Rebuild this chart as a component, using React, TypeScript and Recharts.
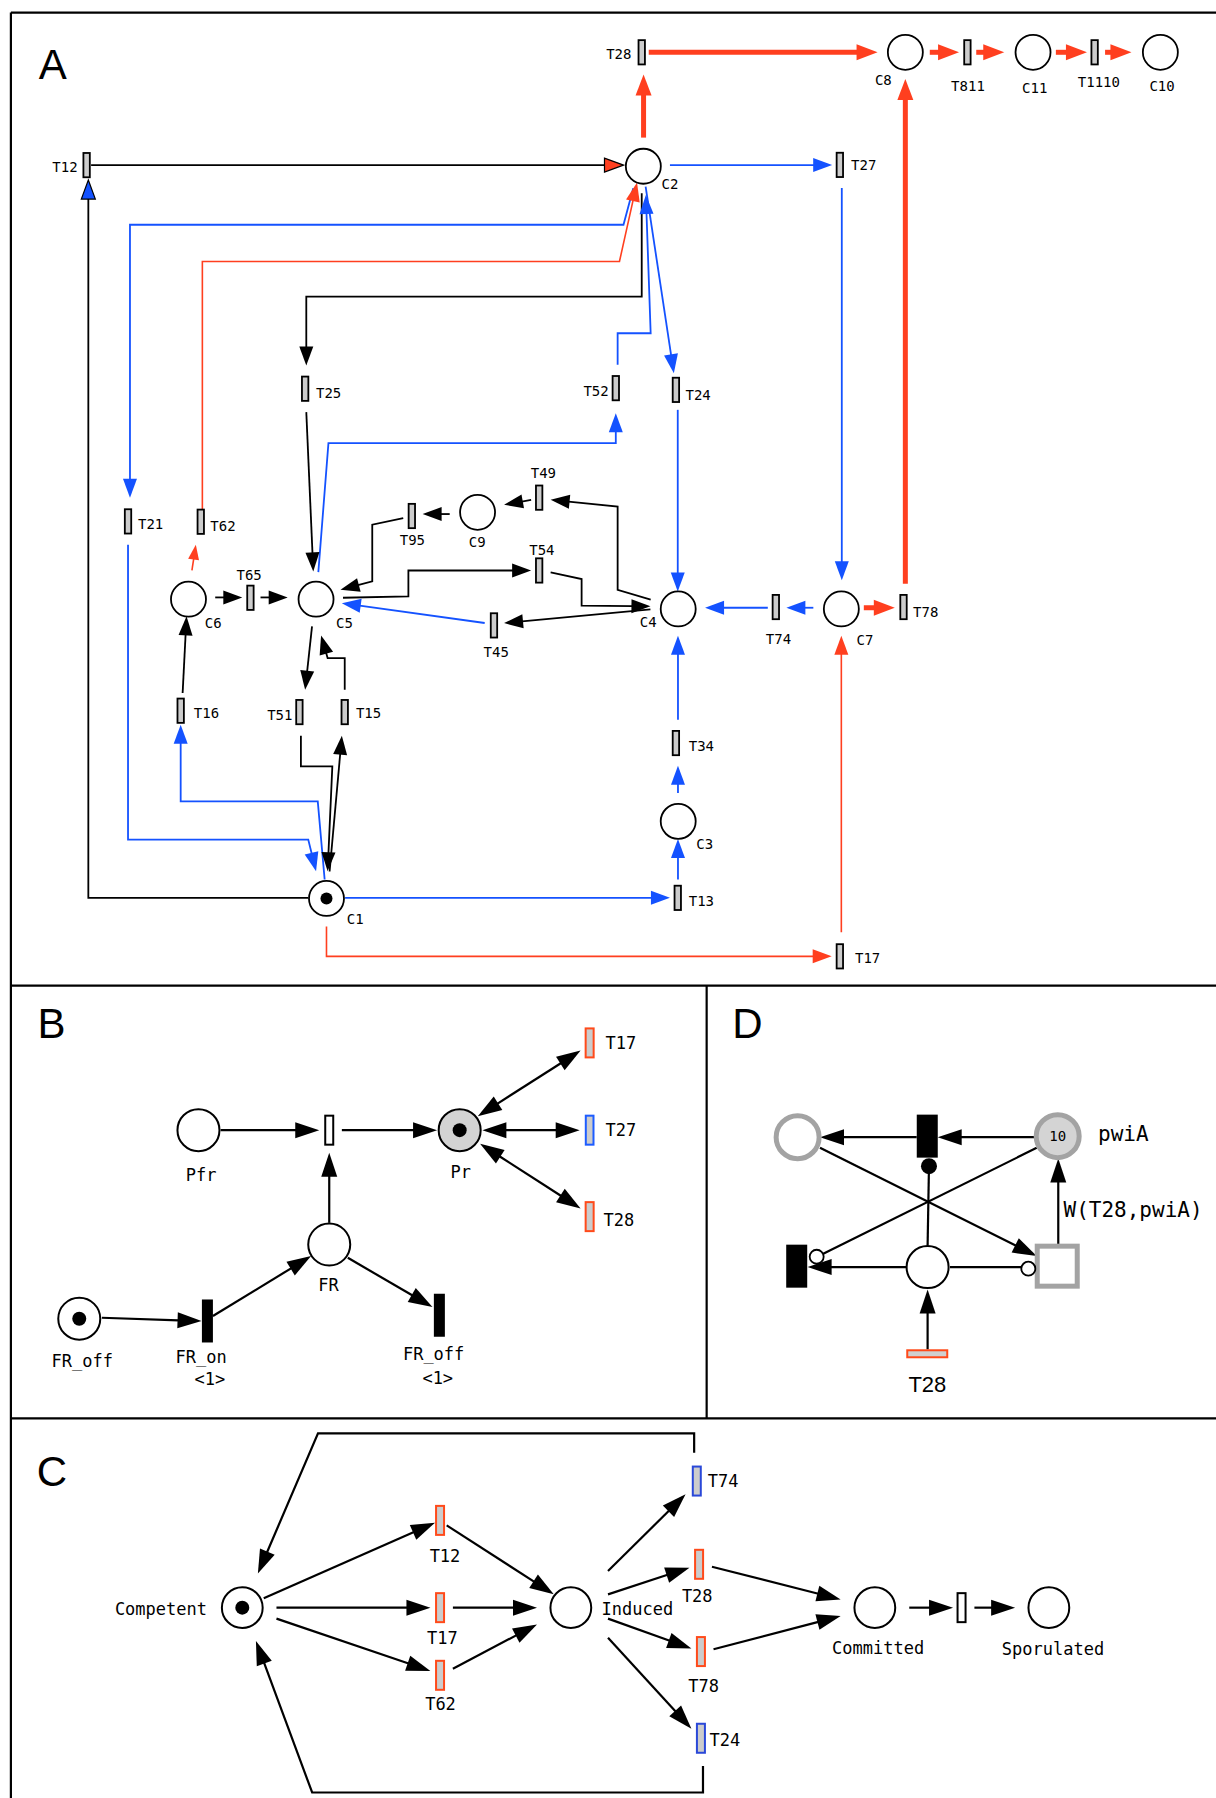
import React from 'react';
import { ComposedChart, Scatter, XAxis, YAxis } from 'recharts';

const W = 1216;
const H = 1798;
// data units: the figure's own grid (the reference at 1060 x 1568)
const DW = 1060;
const DH = 1568;
const KX = W / DW;
const KY = H / DH;

type Node = { id: string; x: number; y: number; kind: string; token?: boolean };
type Label = { t: string; x: number; y: number; kind: string };
type Edge = { pts: number[][]; kind: string; heads: number; headFill?: string };

const frame: number[][][] = [
  [[9.5, 11], [1060, 11]],
  [[9.5, 11], [9.5, 1568]],
  [[9.5, 859.5], [1060, 859.5]],
  [[9.5, 1237], [1060, 1237]],
  [[616, 859.5], [616, 1237]],
];

const places: Node[] = [
  // A
  { id: 'C1', x: 284.6, y: 783.5, kind: 'a', token: true },
  { id: 'C2', x: 560.8, y: 145, kind: 'a' },
  { id: 'C3', x: 591.2, y: 716.3, kind: 'a' },
  { id: 'C4', x: 591.2, y: 531, kind: 'a' },
  { id: 'C5', x: 275.5, y: 522.5, kind: 'a' },
  { id: 'C6', x: 164.3, y: 522.5, kind: 'a' },
  { id: 'C7', x: 733.4, y: 531, kind: 'a' },
  { id: 'C8', x: 789.2, y: 45.6, kind: 'a' },
  { id: 'C9', x: 416.3, y: 446.8, kind: 'a' },
  { id: 'C10', x: 1011.5, y: 45.6, kind: 'a' },
  { id: 'C11', x: 900.5, y: 45.6, kind: 'a' },
  // B
  { id: 'Pfr', x: 173, y: 985.6, kind: 'b' },
  { id: 'Pr', x: 400.7, y: 985.6, kind: 'bg', token: true },
  { id: 'FR', x: 287, y: 1085.3, kind: 'b' },
  { id: 'FR_off', x: 69.1, y: 1150, kind: 'b', token: true },
  // C
  { id: 'Competent', x: 211.2, y: 1402, kind: 'c', token: true },
  { id: 'Induced', x: 497.6, y: 1402, kind: 'c' },
  { id: 'Committed', x: 762.6, y: 1402, kind: 'c' },
  { id: 'Sporulated', x: 914.3, y: 1402, kind: 'c' },
  // D
  { id: 'D-left', x: 695.3, y: 991.7, kind: 'ring' },
  { id: 'pwiA', x: 922, y: 990.8, kind: 'ringFill' },
  { id: 'D-mid', x: 808.6, y: 1105, kind: 'd' },
];

const arcEnds: Node[] = [
  { id: 'read', x: 809.8, y: 1017, kind: 'dot' },
  { id: 'inh1', x: 711.9, y: 1096, kind: 'inhib' },
  { id: 'inh2', x: 896.4, y: 1106.4, kind: 'inhib' },
];

const transitions: Node[] = [
  // A
  { id: 'T28', x: 559.4, y: 45.6, kind: 'ta' },
  { id: 'T811', x: 843.3, y: 45.6, kind: 'ta' },
  { id: 'T1110', x: 954.2, y: 45.6, kind: 'ta' },
  { id: 'T12', x: 75.5, y: 144, kind: 'ta' },
  { id: 'T27', x: 732.1, y: 143.8, kind: 'ta' },
  { id: 'T25', x: 266, y: 339, kind: 'ta' },
  { id: 'T52', x: 536.8, y: 338.5, kind: 'ta' },
  { id: 'T24', x: 589.2, y: 340, kind: 'ta' },
  { id: 'T49', x: 470, y: 434, kind: 'ta' },
  { id: 'T95', x: 359, y: 450, kind: 'ta' },
  { id: 'T54', x: 470, y: 497.5, kind: 'ta' },
  { id: 'T65', x: 218.3, y: 521.3, kind: 'ta' },
  { id: 'T21', x: 111.6, y: 454.7, kind: 'ta' },
  { id: 'T62', x: 175, y: 455, kind: 'ta' },
  { id: 'T45', x: 430.6, y: 545.4, kind: 'ta' },
  { id: 'T74', x: 676.3, y: 529.4, kind: 'ta' },
  { id: 'T78', x: 787.6, y: 529.4, kind: 'ta' },
  { id: 'T16', x: 157.5, y: 619.8, kind: 'ta' },
  { id: 'T51', x: 261, y: 621, kind: 'ta' },
  { id: 'T15', x: 300.5, y: 621, kind: 'ta' },
  { id: 'T34', x: 589.2, y: 648, kind: 'ta' },
  { id: 'T13', x: 590.8, y: 783, kind: 'ta' },
  { id: 'T17', x: 732.1, y: 834, kind: 'ta' },
  // B
  { id: 'B-mid', x: 287, y: 985.6, kind: 'tw' },
  { id: 'B-T17', x: 514, y: 909.5, kind: 'tor' },
  { id: 'B-T27', x: 514, y: 985.6, kind: 'tblB' },
  { id: 'B-T28', x: 514, y: 1061, kind: 'tor' },
  { id: 'FR_on', x: 180.8, y: 1152, kind: 'tk' },
  { id: 'FR_offT', x: 383, y: 1147, kind: 'tk' },
  // C
  { id: 'C-T12', x: 383.6, y: 1325.9, kind: 'tor' },
  { id: 'C-T17', x: 383.6, y: 1402, kind: 'tor' },
  { id: 'C-T62', x: 383.6, y: 1461, kind: 'tor' },
  { id: 'C-T74', x: 607.4, y: 1291.6, kind: 'tbl' },
  { id: 'C-T28', x: 609.4, y: 1364.2, kind: 'tor' },
  { id: 'C-T78', x: 611, y: 1440.3, kind: 'tor' },
  { id: 'C-T24', x: 611, y: 1515.9, kind: 'tbl' },
  { id: 'C-mid', x: 838.2, y: 1402, kind: 'tw' },
  // D
  { id: 'D-top', x: 808.3, y: 990.8, kind: 'tkD' },
  { id: 'D-lt', x: 694.5, y: 1104.2, kind: 'tkD' },
  { id: 'D-sq', x: 921.6, y: 1104.2, kind: 'sq' },
  { id: 'D-T28', x: 808.3, y: 1180.6, kind: 'hbar' },
];

const labels: Label[] = [
  { t: 'A', x: 33.8, y: 69.1, kind: 'P' },
  { t: 'B', x: 32.6, y: 905.4, kind: 'P' },
  { t: 'C', x: 32, y: 1296, kind: 'P' },
  { t: 'D', x: 638.3, y: 905.4, kind: 'P' },
  // A
  { t: 'T28', x: 539.4, y: 46.8, kind: 'a' },
  { t: 'T811', x: 843.8, y: 74.7, kind: 'a' },
  { t: 'T1110', x: 957.9, y: 71.6, kind: 'a' },
  { t: 'C8', x: 770, y: 70, kind: 'a' },
  { t: 'C11', x: 902, y: 76.5, kind: 'a' },
  { t: 'C10', x: 1013, y: 74.7, kind: 'a' },
  { t: 'C2', x: 584, y: 160.5, kind: 'a' },
  { t: 'T27', x: 752.9, y: 144.2, kind: 'a' },
  { t: 'T24', x: 608.6, y: 344.5, kind: 'a' },
  { t: 'T12', x: 56.6, y: 146, kind: 'a' },
  { t: 'T25', x: 286.5, y: 343, kind: 'a' },
  { t: 'T52', x: 519.6, y: 341.4, kind: 'a' },
  { t: 'T49', x: 473.7, y: 412.2, kind: 'a' },
  { t: 'T21', x: 131.3, y: 456.8, kind: 'a' },
  { t: 'T62', x: 194.4, y: 458.3, kind: 'a' },
  { t: 'T95', x: 359.5, y: 471.3, kind: 'a' },
  { t: 'C9', x: 416, y: 472.5, kind: 'a' },
  { t: 'T54', x: 472.4, y: 479.5, kind: 'a' },
  { t: 'T65', x: 217.2, y: 501.3, kind: 'a' },
  { t: 'C6', x: 185.9, y: 543.1, kind: 'a' },
  { t: 'C5', x: 300.3, y: 543.1, kind: 'a' },
  { t: 'T45', x: 432.6, y: 568.6, kind: 'a' },
  { t: 'T16', x: 180, y: 621.8, kind: 'a' },
  { t: 'T51', x: 243.9, y: 623.3, kind: 'a' },
  { t: 'T15', x: 321.3, y: 621.8, kind: 'a' },
  { t: 'C1', x: 309.6, y: 801.1, kind: 'a' },
  { t: 'C4', x: 565, y: 542.6, kind: 'a' },
  { t: 'T74', x: 678.6, y: 557, kind: 'a' },
  { t: 'C7', x: 754, y: 558.5, kind: 'a' },
  { t: 'T78', x: 807, y: 534.1, kind: 'a' },
  { t: 'T34', x: 611.4, y: 650.3, kind: 'a' },
  { t: 'C3', x: 614.3, y: 735.9, kind: 'a' },
  { t: 'T13', x: 611.4, y: 785.7, kind: 'a' },
  { t: 'T17', x: 756.3, y: 835.4, kind: 'a' },
  // B
  { t: 'Pfr', x: 175.3, y: 1024.3, kind: 'b' },
  { t: 'Pr', x: 401.7, y: 1022.1, kind: 'b' },
  { t: 'T17', x: 541.3, y: 909.5, kind: 'b' },
  { t: 'T27', x: 541.3, y: 985.1, kind: 'b' },
  { t: 'T28', x: 539.5, y: 1063.6, kind: 'b' },
  { t: 'FR', x: 286.4, y: 1120.5, kind: 'b' },
  { t: 'FR_off', x: 71.7, y: 1187.1, kind: 'b' },
  { t: 'FR_on', x: 175.3, y: 1183.4, kind: 'b' },
  { t: '<1>', x: 183, y: 1202.5, kind: 'b' },
  { t: 'FR_off', x: 378, y: 1181.2, kind: 'b' },
  { t: '<1>', x: 381.6, y: 1201.3, kind: 'b' },
  // C
  { t: 'Competent', x: 140.3, y: 1403.1, kind: 'b' },
  { t: 'T12', x: 387.9, y: 1357.1, kind: 'b' },
  { t: 'T17', x: 385.7, y: 1428.9, kind: 'b' },
  { t: 'T62', x: 384, y: 1486.2, kind: 'b' },
  { t: 'Induced', x: 555.6, y: 1403, kind: 'b' },
  { t: 'T74', x: 630.3, y: 1291.3, kind: 'b' },
  { t: 'T28', x: 607.8, y: 1391.7, kind: 'b' },
  { t: 'T78', x: 613.4, y: 1470.3, kind: 'b' },
  { t: 'T24', x: 631.9, y: 1517.1, kind: 'b' },
  { t: 'Committed', x: 765.5, y: 1437.5, kind: 'b' },
  { t: 'Sporulated', x: 917.9, y: 1437.8, kind: 'b' },
  // D
  { t: 'pwiA', x: 979.2, y: 988.9, kind: 'd' },
  { t: 'W(T28,pwiA)', x: 987.7, y: 1054.9, kind: 'd' },
  { t: '10', x: 922, y: 990.8, kind: 'n' },
  { t: 'T28', x: 808.4, y: 1207.8, kind: 's' },
];

const edgesA: Edge[] = [
  { pts: [[561, 120], [561, 65]], kind: 'R', heads: 1 },
  { pts: [[565.5, 45.6], [765, 45.6]], kind: 'R', heads: 1 },
  { pts: [[810.5, 45.6], [836, 45.6]], kind: 'R', heads: 1 },
  { pts: [[851, 45.6], [875.4, 45.6]], kind: 'R', heads: 1 },
  { pts: [[920.4, 45.6], [947.5, 45.6]], kind: 'R', heads: 1 },
  { pts: [[963.3, 45.6], [986.3, 45.6]], kind: 'R', heads: 1 },
  { pts: [[789.2, 509], [789.2, 69]], kind: 'R', heads: 1 },
  { pts: [[753, 530], [780, 530]], kind: 'R', heads: 1 },
  { pts: [[284.6, 808], [284.6, 834], [725, 834]], kind: 'r', heads: 1 },
  { pts: [[733.4, 813], [733.4, 554.4]], kind: 'r', heads: 1 },
  { pts: [[167.3, 497.5], [170.7, 475]], kind: 'rs', heads: 1 },
  { pts: [[176.4, 444], [176.4, 228], [540, 228], [555.3, 159.2]], kind: 'r', heads: 1 },
  { pts: [[584, 144], [725.4, 144]], kind: 'b', heads: 1 },
  { pts: [[733.8, 164], [733.8, 506]], kind: 'b', heads: 1 },
  { pts: [[562.8, 162.7], [587.4, 325.4]], kind: 'b', heads: 1 },
  { pts: [[590.8, 357.4], [590.8, 515.8]], kind: 'b', heads: 1 },
  { pts: [[538.4, 318], [538.4, 290.6], [567.2, 290.6], [563, 170]], kind: 'b', heads: 1 },
  { pts: [[277.5, 499], [286.3, 386.4], [536.8, 386.4], [536.8, 360.3]], kind: 'b', heads: 1 },
  { pts: [[552, 164.2], [543.5, 196], [113.3, 196], [113.3, 434]], kind: 'b', heads: 1 },
  { pts: [[111.6, 475], [111.6, 732.2], [268.7, 732.2], [275.5, 759.8]], kind: 'b', heads: 1 },
  { pts: [[283, 767], [277, 698.8], [157.5, 698.8], [157.5, 632]], kind: 'b', heads: 1 },
  { pts: [[300.8, 783], [584, 783]], kind: 'b', heads: 1 },
  { pts: [[591, 767], [591, 731.6]], kind: 'b', heads: 1 },
  { pts: [[591, 691.6], [591, 667.7]], kind: 'b', heads: 1 },
  { pts: [[591, 627.6], [591, 554.4]], kind: 'b', heads: 1 },
  { pts: [[669.3, 530], [614.6, 530]], kind: 'b', heads: 1 },
  { pts: [[709, 530], [685.5, 530]], kind: 'b', heads: 1 },
  { pts: [[422.5, 543.3], [298, 526]], kind: 'b', heads: 1 },
  { pts: [[268.7, 783], [77, 783], [77, 157]], kind: 'k', heads: 1, headFill: 'b' },
  { pts: [[79.4, 144], [543.5, 144]], kind: 'k', heads: 1, headFill: 'r' },
  { pts: [[559.4, 168.6], [559.4, 258.6], [267, 258.6], [267, 318.8]], kind: 'k', heads: 1 },
  { pts: [[267, 359.4], [273.1, 498.3]], kind: 'k', heads: 1 },
  { pts: [[187.6, 521], [211.2, 521]], kind: 'k', heads: 1 },
  { pts: [[227.1, 521], [250.8, 521]], kind: 'k', heads: 1 },
  { pts: [[299, 521.3], [356, 520.1], [356, 497.5], [463, 497.5]], kind: 'k', heads: 1 },
  { pts: [[480, 499.2], [507, 505], [507, 528.2], [567, 528.8]], kind: 'k', heads: 1 },
  { pts: [[567, 531.5], [439.4, 543.4]], kind: 'k', heads: 1 },
  { pts: [[567.2, 523], [538.4, 514.3], [538.4, 441.7], [480, 435.9]], kind: 'k', heads: 1 },
  { pts: [[463, 435.9], [439.4, 440.2]], kind: 'k', heads: 1 },
  { pts: [[392, 448.3], [368.4, 448.3]], kind: 'k', heads: 1 },
  { pts: [[351.5, 451.8], [324.5, 457.6], [324.5, 507], [296.8, 514.3]], kind: 'k', heads: 1 },
  { pts: [[272, 546.3], [266, 601.5]], kind: 'k', heads: 1 },
  { pts: [[300.5, 601.5], [300.5, 573.9], [285.6, 573.9], [279.9, 554.1]], kind: 'k', heads: 1 },
  { pts: [[262.3, 641.6], [262.3, 668.3], [289.7, 668.3], [285.6, 759.8]], kind: 'k', heads: 1 },
  { pts: [[287.3, 760], [298, 641.6]], kind: 'k', heads: 1 },
  { pts: [[159.2, 604.4], [162.6, 537.5]], kind: 'k', heads: 1 },
];

const edgesB: Edge[] = [
  { pts: [[192.3, 985.6], [278.3, 985.6]], kind: 'k2', heads: 1 },
  { pts: [[298, 985.6], [381, 985.6]], kind: 'k2', heads: 1 },
  { pts: [[287, 1066.4], [287, 1005.3]], kind: 'k2', heads: 1 },
  { pts: [[88.8, 1149.2], [175.7, 1152.1]], kind: 'k2', heads: 1 },
  { pts: [[185.6, 1147.7], [271.2, 1095.4]], kind: 'k2', heads: 1 },
  { pts: [[303.2, 1096.9], [377, 1139.9]], kind: 'k2', heads: 1 },
  { pts: [[416.5, 973.4], [506.1, 916.2]], kind: 'k2', heads: 2 },
  { pts: [[420.5, 985.6], [505.3, 985.6]], kind: 'k2', heads: 2 },
  { pts: [[418.5, 997.5], [506.1, 1053.9]], kind: 'k2', heads: 2 },
];

const edgesC: Edge[] = [
  { pts: [[229.9, 1393.9], [379.2, 1327.9]], kind: 'k2', heads: 1 },
  { pts: [[241, 1402], [375.2, 1402]], kind: 'k2', heads: 1 },
  { pts: [[241, 1411.6], [375.2, 1457.2]], kind: 'k2', heads: 1 },
  { pts: [[389.4, 1330.2], [482.7, 1390.4]], kind: 'k2', heads: 1 },
  { pts: [[394.8, 1402], [468.1, 1402]], kind: 'k2', heads: 1 },
  { pts: [[394.8, 1455.2], [468.1, 1416.6]], kind: 'k2', heads: 1 },
  { pts: [[530, 1370], [597.6, 1303.2]], kind: 'k2', heads: 1 },
  { pts: [[530, 1390.4], [601, 1367.1]], kind: 'k2', heads: 1 },
  { pts: [[530, 1411.6], [602.7, 1437.7]], kind: 'k2', heads: 1 },
  { pts: [[530, 1428.2], [602.7, 1507.5]], kind: 'k2', heads: 1 },
  { pts: [[620.6, 1366.3], [732.8, 1394.8]], kind: 'k2', heads: 1 },
  { pts: [[622, 1438.3], [732.8, 1409.3]], kind: 'k2', heads: 1 },
  { pts: [[792.6, 1402], [830.8, 1402]], kind: 'k2', heads: 1 },
  { pts: [[849.4, 1402], [884.9, 1402]], kind: 'k2', heads: 1 },
  { pts: [[605.1, 1266.9], [605.1, 1250], [277.2, 1250], [224.8, 1372.3]], kind: 'k2', heads: 1 },
  { pts: [[612.8, 1540], [612.8, 1563.2], [272.1, 1563.2], [223.1, 1431]], kind: 'k2', heads: 1 },
];

const edgesD: Edge[] = [
  { pts: [[903.7, 991.7], [817.4, 991.7]], kind: 'k2', heads: 1 },
  { pts: [[799.1, 991.7], [714.8, 991.7]], kind: 'k2', heads: 1 },
  { pts: [[808.6, 1086.1], [809.8, 1017]], kind: 'k2', heads: 0 },
  { pts: [[789.8, 1105], [704, 1105]], kind: 'k2', heads: 1 },
  { pts: [[903.7, 1001], [716.3, 1094]], kind: 'k2', heads: 0 },
  { pts: [[714.8, 1001], [903.7, 1095.4]], kind: 'k2', heads: 1 },
  { pts: [[828.1, 1105], [890.4, 1105]], kind: 'k2', heads: 0 },
  { pts: [[922.5, 1085.3], [922.5, 1010.3]], kind: 'k2', heads: 1 },
  { pts: [[808.6, 1176.8], [808.6, 1124.5]], kind: 'k2', heads: 1 },
];

const BLUE = '#1452ff';
const RED = '#ff3f1f';
const ORANGE = '#ff4a1a';
const GRAY = '#cccccc';
const RING = '#a3a3a3';
const MONO = "'DejaVu Sans Mono', monospace";
const SANS = "'Liberation Sans', Arial, sans-serif";

const EDGE_STYLE: Record<string, { color: string; width: number; len: number; hw: number }> = {
  k: { color: '#000', width: 1.8, len: 19, hw: 7 },
  b: { color: BLUE, width: 1.8, len: 19, hw: 7 },
  r: { color: RED, width: 1.6, len: 19, hw: 7 },
  rs: { color: RED, width: 1.6, len: 15, hw: 5.5 },
  R: { color: RED, width: 5, len: 21, hw: 8 },
  k2: { color: '#000', width: 2.2, len: 24, hw: 8 },
};

const HEAD_FILL: Record<string, string> = { b: BLUE, r: RED };

const unit = (a: number[], b: number[]) => {
  const dx = (b[0] - a[0]) * KX;
  const dy = (b[1] - a[1]) * KY;
  const l = Math.hypot(dx, dy) || 1;
  return [dx / l, dy / l];
};

const heads: any[] = [];
const edgeLines = [...edgesA, ...edgesB, ...edgesC, ...edgesD].map((e) => {
  const st = EDGE_STYLE[e.kind];
  const pts = e.pts.map((p) => [p[0], p[1]]);
  const cut = st.len - 1;
  const n = pts.length;
  if (e.heads >= 1) {
    const [ux, uy] = unit(e.pts[n - 2], e.pts[n - 1]);
    heads.push({ x: e.pts[n - 1][0], y: e.pts[n - 1][1], ang: Math.atan2(uy, ux), kind: e.kind, fill: e.headFill });
    pts[n - 1] = [pts[n - 1][0] - (ux * cut) / KX, pts[n - 1][1] - (uy * cut) / KY];
  }
  if (e.heads === 2) {
    const [ux, uy] = unit(e.pts[1], e.pts[0]);
    heads.push({ x: e.pts[0][0], y: e.pts[0][1], ang: Math.atan2(uy, ux), kind: e.kind });
    pts[0] = [pts[0][0] - (ux * cut) / KX, pts[0][1] - (uy * cut) / KY];
  }
  return { kind: e.kind, data: pts.map(([x, y]) => ({ x, y })) };
});

const noShape = () => <g />;

const HeadShape = (props: any) => {
  const { cx, cy, payload } = props;
  const st = EDGE_STYLE[payload.kind];
  const c = Math.cos(payload.ang);
  const s = Math.sin(payload.ang);
  const bx = cx - c * st.len;
  const by = cy - s * st.len;
  const pts = `${cx},${cy} ${bx - s * st.hw},${by + c * st.hw} ${bx + s * st.hw},${by - c * st.hw}`;
  const custom = payload.fill ? HEAD_FILL[payload.fill] : null;
  return (
    <polygon
      points={pts}
      fill={custom || st.color}
      stroke={custom ? '#000' : 'none'}
      strokeWidth={custom ? 1.2 : 0}
    />
  );
};

const CIRCLE: Record<string, { r: number; fill: string; stroke: string; sw: number }> = {
  a: { r: 17.5, fill: '#fff', stroke: '#000', sw: 1.8 },
  b: { r: 21, fill: '#fff', stroke: '#000', sw: 2 },
  bg: { r: 21, fill: '#d3d3d3', stroke: '#000', sw: 2 },
  c: { r: 20.4, fill: '#fff', stroke: '#000', sw: 2 },
  d: { r: 21, fill: '#fff', stroke: '#000', sw: 2 },
  ring: { r: 21.5, fill: '#fff', stroke: RING, sw: 5 },
  ringFill: { r: 21.5, fill: '#d4d4d4', stroke: RING, sw: 5 },
  dot: { r: 8, fill: '#000', stroke: 'none', sw: 0 },
  inhib: { r: 7, fill: '#fff', stroke: '#000', sw: 1.8 },
};

const RECT: Record<string, { w: number; h: number; fill: string; stroke: string; sw: number }> = {
  ta: { w: 6.4, h: 24.3, fill: GRAY, stroke: '#000', sw: 1.8 },
  tw: { w: 8, h: 29, fill: '#fff', stroke: '#000', sw: 2 },
  tor: { w: 8, h: 29, fill: GRAY, stroke: ORANGE, sw: 2 },
  tbl: { w: 8, h: 29, fill: GRAY, stroke: '#2a48d8', sw: 2 },
  tblB: { w: 7.7, h: 29, fill: GRAY, stroke: '#1d5cff', sw: 2 },
  tk: { w: 11, h: 43, fill: '#000', stroke: 'none', sw: 0 },
  tkD: { w: 21, h: 43, fill: '#000', stroke: 'none', sw: 0 },
  sq: { w: 40, h: 40, fill: '#fff', stroke: RING, sw: 5 },
  hbar: { w: 40, h: 7, fill: '#d0d0d0', stroke: ORANGE, sw: 2 },
};

const NodeShape = (props: any) => {
  const { cx, cy, payload } = props;
  const c = CIRCLE[payload.kind];
  if (c) {
    return (
      <g>
        <circle cx={cx} cy={cy} r={c.r} fill={c.fill} stroke={c.stroke} strokeWidth={c.sw} />
        {payload.token && <circle cx={cx} cy={cy} r={payload.kind === 'a' ? 6 : 7} fill="#000" />}
      </g>
    );
  }
  const r = RECT[payload.kind];
  return <rect x={cx - r.w / 2} y={cy - r.h / 2} width={r.w} height={r.h} fill={r.fill} stroke={r.stroke} strokeWidth={r.sw} />;
};

const TEXT: Record<string, { font: string; size: number }> = {
  a: { font: MONO, size: 14 },
  b: { font: MONO, size: 17 },
  d: { font: MONO, size: 21 },
  n: { font: MONO, size: 14 },
  s: { font: SANS, size: 22 },
  P: { font: SANS, size: 42 },
};

const LabelShape = (props: any) => {
  const { cx, cy, payload } = props;
  const st = TEXT[payload.kind];
  if (payload.kind === 'P') {
    return (
      <text x={cx} y={cy} fontFamily={st.font} fontSize={st.size} fill="#000" textAnchor="start">
        {payload.t}
      </text>
    );
  }
  return (
    <text x={cx} y={cy} fontFamily={st.font} fontSize={st.size} fill="#000" textAnchor="middle" dominantBaseline="central">
      {payload.t}
    </text>
  );
};

export default function App() {
  return (
    <div style={{ width: W, height: H, background: '#fff' }}>
      <style>{'body{margin:0}'}</style>
      <ComposedChart width={W} height={H} margin={{ top: 0, right: 0, bottom: 0, left: 0 }}>
        <XAxis type="number" dataKey="x" domain={[0, DW]} allowDataOverflow hide />
        <YAxis type="number" dataKey="y" domain={[0, DH]} allowDataOverflow reversed hide />
        {frame.map((f, i) => (
          <Scatter
            key={'frame' + i}
            data={f.map(([x, y]) => ({ x, y }))}
            line={{ stroke: '#000', strokeWidth: 2.2 }}
            fill="none"
            shape={noShape}
            isAnimationActive={false}
          />
        ))}
        {edgeLines.map((e, i) => (
          <Scatter
            key={'edge' + i}
            data={e.data}
            line={{ stroke: EDGE_STYLE[e.kind].color, strokeWidth: EDGE_STYLE[e.kind].width }}
            fill="none"
            shape={noShape}
            isAnimationActive={false}
          />
        ))}
        <Scatter data={heads} shape={HeadShape} isAnimationActive={false} />
        <Scatter data={places} shape={NodeShape} isAnimationActive={false} />
        <Scatter data={transitions} shape={NodeShape} isAnimationActive={false} />
        <Scatter data={arcEnds} shape={NodeShape} isAnimationActive={false} />
        <Scatter data={labels} shape={LabelShape} isAnimationActive={false} />
      </ComposedChart>
    </div>
  );
}
